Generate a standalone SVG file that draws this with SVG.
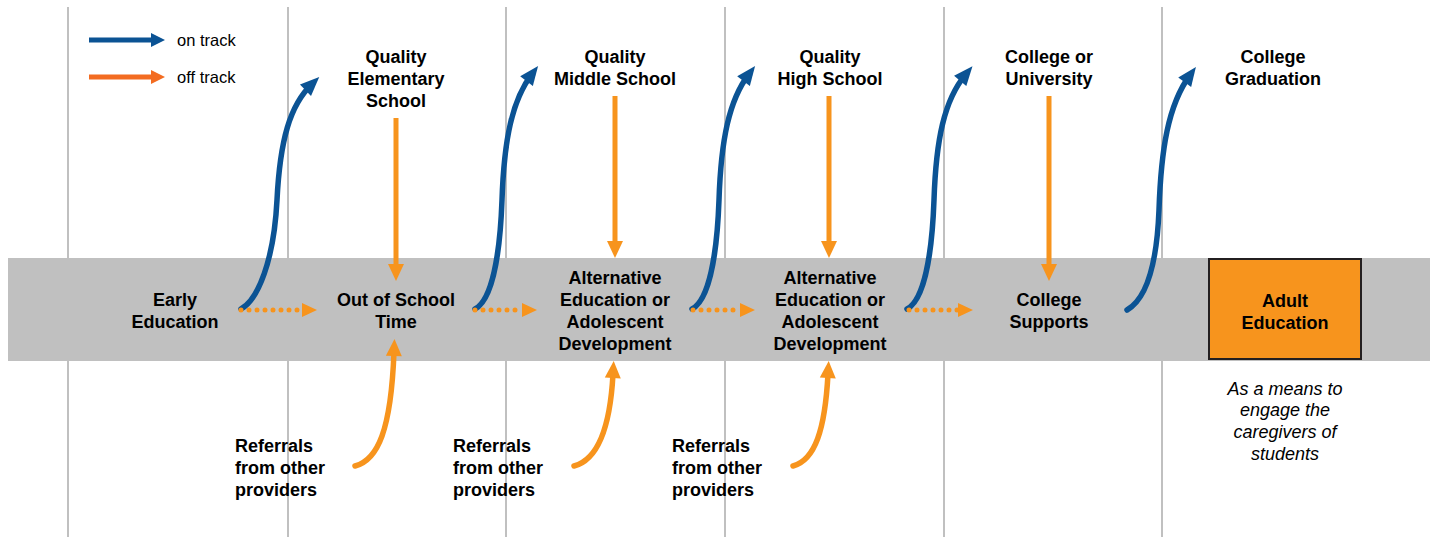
<svg xmlns="http://www.w3.org/2000/svg" width="1434" height="537" viewBox="0 0 1434 537">
<style>
.t{font-family:"Liberation Sans",Arial,sans-serif;font-weight:bold;font-size:18px;fill:#000;text-anchor:middle}
.l{font-family:"Liberation Sans",Arial,sans-serif;font-weight:bold;font-size:18px;fill:#000}
.i{font-family:"Liberation Sans",Arial,sans-serif;font-style:italic;font-size:18px;fill:#000;text-anchor:middle}
.g{font-family:"Liberation Sans",Arial,sans-serif;font-size:16.5px;fill:#000}
.vl{stroke:#c0c0c0;stroke-width:2}
.blue{fill:none;stroke:#0b5394;stroke-width:5.5;stroke-linecap:round;marker-end:url(#hb)}
.or{fill:none;stroke:#f7941d;stroke-width:5;marker-end:url(#ho)}
.orc{fill:none;stroke:#f7941d;stroke-width:5.5;stroke-linecap:round;marker-end:url(#ho)}
.dot{fill:none;stroke:#f7941d;stroke-width:5;stroke-linecap:round;stroke-dasharray:0 8;marker-end:url(#hd)}
</style>
<defs>
<marker id="hb" markerUnits="userSpaceOnUse" markerWidth="20" markerHeight="18" refX="9" refY="8" orient="auto" overflow="visible"><path d="M0,0 L19,8 L0,16 z" fill="#0b5394"/></marker>
<marker id="ho" markerUnits="userSpaceOnUse" markerWidth="18" markerHeight="18" refX="4" refY="8" orient="auto" overflow="visible"><path d="M0,0 L17,8 L0,16 z" fill="#f7941d"/></marker>
<marker id="hd" markerUnits="userSpaceOnUse" markerWidth="16" markerHeight="16" refX="0" refY="7" orient="auto" overflow="visible"><path d="M0,0 L15,7 L0,14 z" fill="#f7941d"/></marker>
<marker id="hlb" markerUnits="userSpaceOnUse" markerWidth="16" markerHeight="16" refX="1" refY="7" orient="auto" overflow="visible"><path d="M0,0 L14,7 L0,14 z" fill="#0b5394"/></marker>
<marker id="hlo" markerUnits="userSpaceOnUse" markerWidth="16" markerHeight="16" refX="1" refY="7" orient="auto" overflow="visible"><path d="M0,0 L14,7 L0,14 z" fill="#f36c21"/></marker>
</defs>
<rect width="1434" height="537" fill="#fff"/>
<g id="grid">
<line class="vl" x1="68" y1="7" x2="68" y2="537"/>
<line class="vl" x1="288" y1="7" x2="288" y2="537"/>
<line class="vl" x1="506" y1="7" x2="506" y2="537"/>
<line class="vl" x1="725" y1="7" x2="725" y2="537"/>
<line class="vl" x1="944" y1="7" x2="944" y2="537"/>
<line class="vl" x1="1162" y1="7" x2="1162" y2="537"/>
</g>
<rect id="band" x="8" y="258" width="1422" height="103" fill="#c0c0c0"/>
<g id="legend">
<line x1="89" y1="40" x2="152" y2="40" stroke="#0b5394" stroke-width="5" marker-end="url(#hlb)"/>
<text class="g" x="177" y="46">on track</text>
<line x1="89" y1="77" x2="152" y2="77" stroke="#f36c21" stroke-width="5" marker-end="url(#hlo)"/>
<text class="g" x="177" y="83">off track</text>
</g>
<g id="connectors">
<path class="blue" d="M241,309 C258,300 274,260 277,200 C280,140 290,105 312,84"/>
<path class="blue" d="M475,309 C492,300 500,255 502,200 C504,140 512,100 532,74"/>
<path class="blue" d="M692,309 C709,300 717,255 719,200 C721,140 729,100 749,74"/>
<path class="blue" d="M907,309 C924,300 932,255 934,200 C936,140 944,100 966,74"/>
<path class="blue" d="M1127,310 C1148,298 1157,260 1159,210 C1161,150 1168,105 1190,75"/>
<path class="dot" d="M241,310 L302,310"/>
<path class="dot" d="M475,310 L522,310"/>
<path class="dot" d="M693,310 L740,310"/>
<path class="dot" d="M909,310 L958,310"/>
<line class="or" x1="396" y1="118" x2="396" y2="268"/>
<line class="or" x1="615" y1="96" x2="615" y2="245"/>
<line class="or" x1="829" y1="96" x2="829" y2="245"/>
<line class="or" x1="1049" y1="96" x2="1049" y2="268"/>
<path class="orc" d="M355,466 C378,460 391,430 394,352"/>
<path class="orc" d="M574,466 C597,460 610,430 613,374"/>
<path class="orc" d="M793,466 C815,460 825,430 828,374"/>
</g>
<g id="n-elem"><text class="t" x="396" y="63">Quality</text><text class="t" x="396" y="85">Elementary</text><text class="t" x="396" y="107">School</text></g>
<g id="n-middle"><text class="t" x="615" y="63">Quality</text><text class="t" x="615" y="85">Middle School</text></g>
<g id="n-high"><text class="t" x="830" y="63">Quality</text><text class="t" x="830" y="85">High School</text></g>
<g id="n-college"><text class="t" x="1049" y="63">College or</text><text class="t" x="1049" y="85">University</text></g>
<g id="n-grad"><text class="t" x="1273" y="63">College</text><text class="t" x="1273" y="85">Graduation</text></g>
<g id="n-early"><text class="t" x="175" y="306">Early</text><text class="t" x="175" y="328">Education</text></g>
<g id="n-ost"><text class="t" x="396" y="306">Out of School</text><text class="t" x="396" y="328">Time</text></g>
<g id="n-alt1"><text class="t" x="615" y="284">Alternative</text><text class="t" x="615" y="306">Education or</text><text class="t" x="615" y="328">Adolescent</text><text class="t" x="615" y="350">Development</text></g>
<g id="n-alt2"><text class="t" x="830" y="284">Alternative</text><text class="t" x="830" y="306">Education or</text><text class="t" x="830" y="328">Adolescent</text><text class="t" x="830" y="350">Development</text></g>
<g id="n-supports"><text class="t" x="1049" y="306">College</text><text class="t" x="1049" y="328">Supports</text></g>
<g id="n-adult">
<rect x="1209" y="259" width="152" height="100" fill="#f7941d" stroke="#231f20" stroke-width="2"/>
<text class="t" x="1285" y="307">Adult</text><text class="t" x="1285" y="329">Education</text>
</g>
<g id="n-note"><text class="i" x="1285" y="395">As a means to</text><text class="i" x="1285" y="416">engage the</text><text class="i" x="1285" y="438">caregivers of</text><text class="i" x="1285" y="460">students</text></g>
<g id="n-ref1"><text class="l" x="235" y="452">Referrals</text><text class="l" x="235" y="474">from other</text><text class="l" x="235" y="496">providers</text></g>
<g id="n-ref2"><text class="l" x="453" y="452">Referrals</text><text class="l" x="453" y="474">from other</text><text class="l" x="453" y="496">providers</text></g>
<g id="n-ref3"><text class="l" x="672" y="452">Referrals</text><text class="l" x="672" y="474">from other</text><text class="l" x="672" y="496">providers</text></g>
</svg>
